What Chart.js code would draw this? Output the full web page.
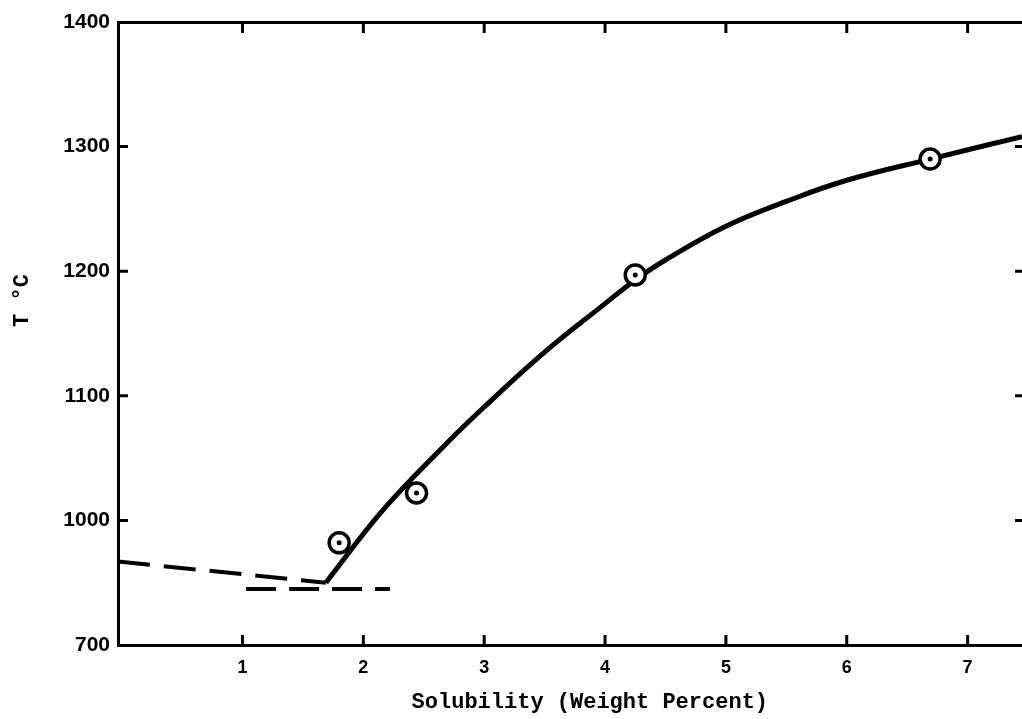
<!DOCTYPE html>
<html>
<head>
<meta charset="utf-8">
<script src="https://cdn.jsdelivr.net/npm/chart.js@4"></script>
<style>
  body { margin: 0; background: #fff; overflow: hidden; }
  #wrap { width: 1022px; height: 719px; }
</style>
</head>
<body>
<div id="wrap"><canvas id="solubility-chart"></canvas></div>
<script>
// measured points (circles)
const measuredX = [1.80, 2.44, 4.25, 6.69];
const measuredT = [982, 1022, 1197, 1290];

// solid solubility curve
const curveX = [1.69, 2.16, 2.66, 3.0, 3.5, 4.0, 4.25, 4.5, 5.0, 5.5, 6.0, 6.69, 7.45];
const curveT = [950, 1008, 1059, 1091, 1135, 1174, 1193, 1209, 1236, 1256, 1273, 1290, 1308];

// dashed lines
const slopeDashX = [-0.03, 1.69];
const slopeDashT = [967, 950];
const flatDashX = [1.03, 2.22];
const flatDashT = [945, 945];

// axis ticks
const xTickValues = [1, 2, 3, 4, 5, 6, 7];
const yTickValues = [900, 1000, 1100, 1200, 1300, 1400];
const yTickLabels = ['700', '1000', '1100', '1200', '1300', '1400'];

const pts = (xs, ys) => xs.map((v, i) => ({ x: v, y: ys[i] }));

// short tick marks pointing into the plot on all four sides
const inwardTicks = {
    id: 'inwardTicks',
    afterDraw(chart) {
        const { ctx, chartArea: a, scales: { x, y } } = chart;
        ctx.save();
        ctx.strokeStyle = '#000';
        ctx.lineWidth = 3;
        ctx.beginPath();
        xTickValues.forEach(v => {
            const px = x.getPixelForValue(v);
            ctx.moveTo(px, a.bottom);
            ctx.lineTo(px, a.bottom - 10);
            ctx.moveTo(px, a.top);
            ctx.lineTo(px, a.top + 11);
        });
        yTickValues.slice(1, -1).forEach(v => {
            const py = y.getPixelForValue(v);
            ctx.moveTo(a.left, py);
            ctx.lineTo(a.left + 10, py);
            ctx.moveTo(a.right, py);
            ctx.lineTo(a.right - 7, py);
        });
        ctx.stroke();
        ctx.restore();
    }
};

const solubilityCanvas = document.querySelector('#solubility-chart').getContext('2d');

let solubilityChart = new Chart(solubilityCanvas, {
    type: 'scatter',
    data: {
        datasets: [
            {
                data: pts(measuredX, measuredT),
                pointRadius: 2.5,
                pointBackgroundColor: '#000',
                pointBorderWidth: 0,
                order: 0
            },
            {
                data: pts(measuredX, measuredT),
                pointRadius: 10,
                pointBackgroundColor: '#fff',
                pointBorderColor: '#000',
                pointBorderWidth: 3.5,
                order: 1
            },
            {
                data: pts(curveX, curveT),
                showLine: true,
                borderColor: '#000',
                borderWidth: 5,
                pointRadius: 0,
                tension: 0.4,
                order: 2
            },
            {
                data: pts(slopeDashX, slopeDashT),
                showLine: true,
                borderColor: '#000',
                borderWidth: 4,
                borderDash: [32, 14],
                pointRadius: 0,
                order: 3
            },
            {
                data: pts(flatDashX, flatDashT),
                showLine: true,
                borderColor: '#000',
                borderWidth: 4,
                borderDash: [30, 13],
                pointRadius: 0,
                order: 3
            }
        ]
    },
    options: {
        responsive: true,
        maintainAspectRatio: false,
        animation: { duration: 0 },
        layout: { padding: 0, autoPadding: false },
        plugins: {
            legend: { display: false },
            tooltip: { enabled: false }
        },
        scales: {
            x: {
                type: 'linear',
                position: 'bottom',
                min: -0.03,
                max: 7.45,
                afterBuildTicks: s => { s.ticks = xTickValues.map(v => ({ value: v })); },
                afterFit: s => { s.height = 74; },
                grid: { display: false, drawTicks: false },
                border: { display: true, color: '#000', width: 3 },
                ticks: {
                    color: '#000',
                    padding: 12,
                    maxRotation: 0,
                    font: { family: 'Liberation Sans', size: 18, weight: 'bold' }
                },
                title: {
                    display: true,
                    text: '   Solubility (Weight Percent)',
                    color: '#000',
                    padding: { top: 0, bottom: 3 },
                    font: { family: 'Liberation Mono', size: 22, weight: 'bold' }
                }
            },
            x2: {
                type: 'linear',
                position: 'top',
                min: -0.03,
                max: 7.45,
                afterFit: s => { s.height = 22; },
                grid: { display: false, drawTicks: false },
                border: { display: true, color: '#000', width: 3 },
                ticks: { display: false }
            },
            y: {
                type: 'linear',
                min: 900,
                max: 1400,
                afterBuildTicks: s => { s.ticks = yTickValues.map(v => ({ value: v })); },
                afterFit: s => { s.width = 118; },
                grid: { display: false, drawTicks: false },
                border: { display: true, color: '#000', width: 3 },
                ticks: {
                    color: '#000',
                    padding: 8,
                    font: { family: 'Liberation Sans', size: 21, weight: 'bold' },
                    callback: (v) => yTickLabels[yTickValues.indexOf(v)]
                },
                title: {
                    display: true,
                    text: '     T °C',
                    color: '#000',
                    padding: { top: 9, bottom: 0 },
                    font: { family: 'Liberation Mono', size: 22, weight: 'bold' }
                }
            }
        }
    },
    plugins: [inwardTicks]
});
</script>
</body>
</html>
